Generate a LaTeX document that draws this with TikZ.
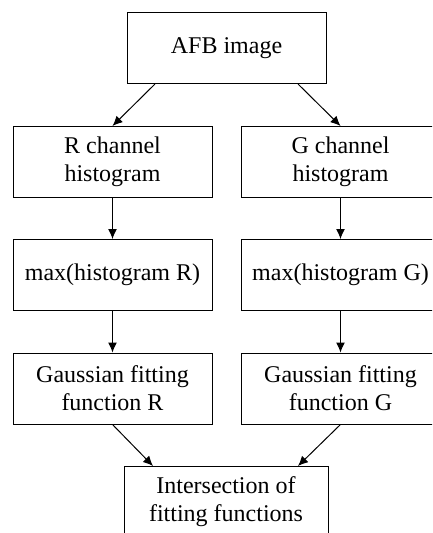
\documentclass[tikz,border=0pt]{standalone}
\usepackage{fontspec}
\setmainfont{Liberation Serif}
\usetikzlibrary{arrows.meta,calc}
\begin{document}
\begin{tikzpicture}[x=1pt,y=-1pt,
  box/.style={draw=black,line width=1pt,minimum width=199pt,minimum height=71pt,
    inner sep=0pt,align=center,font=\fontsize{24}{28}\selectfont},
  arr/.style={line width=1pt,-{Latex[length=10pt,width=9pt]}}]
\useasboundingbox (0,0) rectangle (432,533);
\clip (0,0) rectangle (432,533);
\fill[white] (0,0) rectangle (432,533);
\node[box] (afb) at (226.5,48) {AFB image};
\node[box] (rh) at (112.5,162) {R channel\\histogram};
\node[box] (gh) at (340.5,162) {G channel\\histogram};
\node[box] (rm) at (112.5,275) {max(histogram R)};
\node[box] (gm) at (340.5,275) {max(histogram G)};
\node[box] (rg) at (112.5,388.5) {Gaussian fitting\\function R};
\node[box] (gg) at (340.5,388.5) {Gaussian fitting\\function G};
\node[box,minimum width=204pt] (inter) at (226,502) {Intersection of\\fitting functions};
\draw[arr] ($(afb.south)+(-71.5,0)$) -- (rh.north);
\draw[arr] ($(afb.south)+(71.5,0)$) -- (gh.north);
\draw[arr] (rh.south) -- (rm.north);
\draw[arr] (gh.south) -- (gm.north);
\draw[arr] (rm.south) -- (rg.north);
\draw[arr] (gm.south) -- (gg.north);
\draw[arr] (rg.south) -- ($(inter.north)+(-73,0)$);
\draw[arr] (gg.south) -- ($(inter.north)+(72,0)$);
\end{tikzpicture}
\end{document}
